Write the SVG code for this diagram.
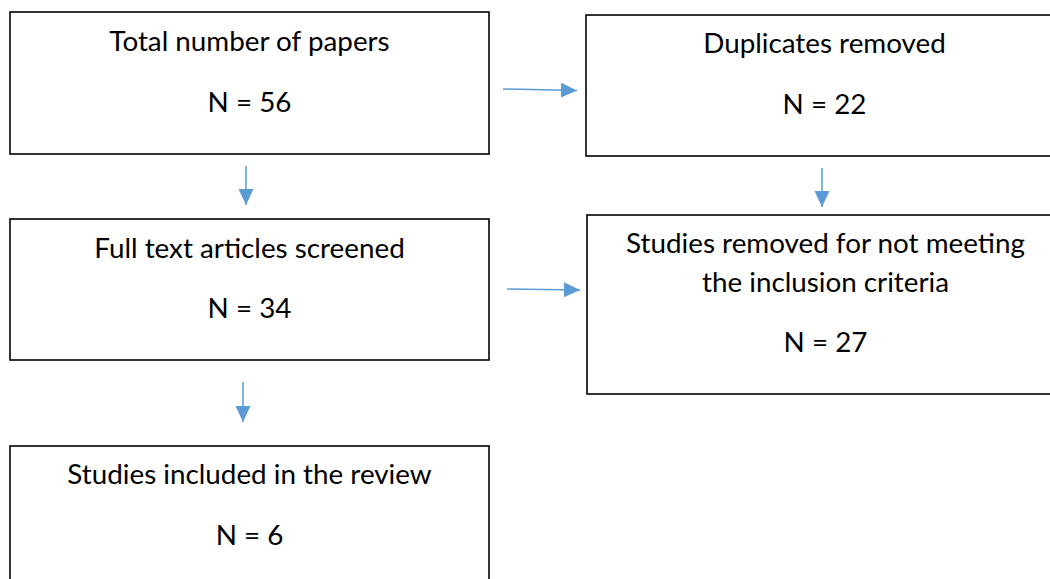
<svg xmlns="http://www.w3.org/2000/svg" width="1050" height="579" viewBox="0 0 1050 579">
<defs>
<marker id="ah" viewBox="0 0 16 15" refX="16" refY="7.5" markerWidth="16" markerHeight="15" markerUnits="userSpaceOnUse" orient="auto">
<path d="M0,0 L16,7.5 L0,15 Z" fill="#5B9BD5"/>
</marker>
<style>
.box{fill:#fff;stroke:#000;stroke-width:1.6}
.t{font-family:Lato,"Liberation Sans",sans-serif;font-size:27.8px;fill:#000;text-anchor:middle}
.c{stroke:#5B9BD5;stroke-width:1.5;fill:none;marker-end:url(#ah)}
</style>
</defs>
<rect width="1050" height="579" fill="#fff"/>
<g id="node-total">
<rect class="box" x="10" y="12" width="479" height="142"/>
<text class="t" x="249.5" y="51">Total number of papers</text>
<text class="t" x="249.5" y="112">N = 56</text>
</g>
<g id="node-duplicates">
<rect class="box" x="586" y="15" width="476" height="141"/>
<text class="t" x="824.5" y="53">Duplicates removed</text>
<text class="t" x="824.5" y="114">N = 22</text>
</g>
<g id="node-screened">
<rect class="box" x="10" y="219" width="479" height="141"/>
<text class="t" x="249.5" y="258">Full text articles screened</text>
<text class="t" x="249.5" y="318">N = 34</text>
</g>
<g id="node-excluded">
<rect class="box" x="587" y="215" width="476" height="179"/>
<text class="t" x="825.5" y="253">Studies removed for not meeting</text>
<text class="t" x="825.5" y="292">the inclusion criteria</text>
<text class="t" x="825.5" y="352">N = 27</text>
</g>
<g id="node-included">
<rect class="box" x="10" y="446" width="479" height="160"/>
<text class="t" x="249.5" y="484">Studies included in the review</text>
<text class="t" x="249.5" y="545">N = 6</text>
</g>
<g id="connectors">
<line class="c" x1="503" y1="89" x2="577" y2="90.5"/>
<line class="c" x1="507" y1="289" x2="580" y2="290"/>
<line class="c" x1="246" y1="166" x2="246" y2="205"/>
<line class="c" x1="822" y1="168" x2="822" y2="207"/>
<line class="c" x1="243" y1="382" x2="243" y2="422"/>
</g>
</svg>
